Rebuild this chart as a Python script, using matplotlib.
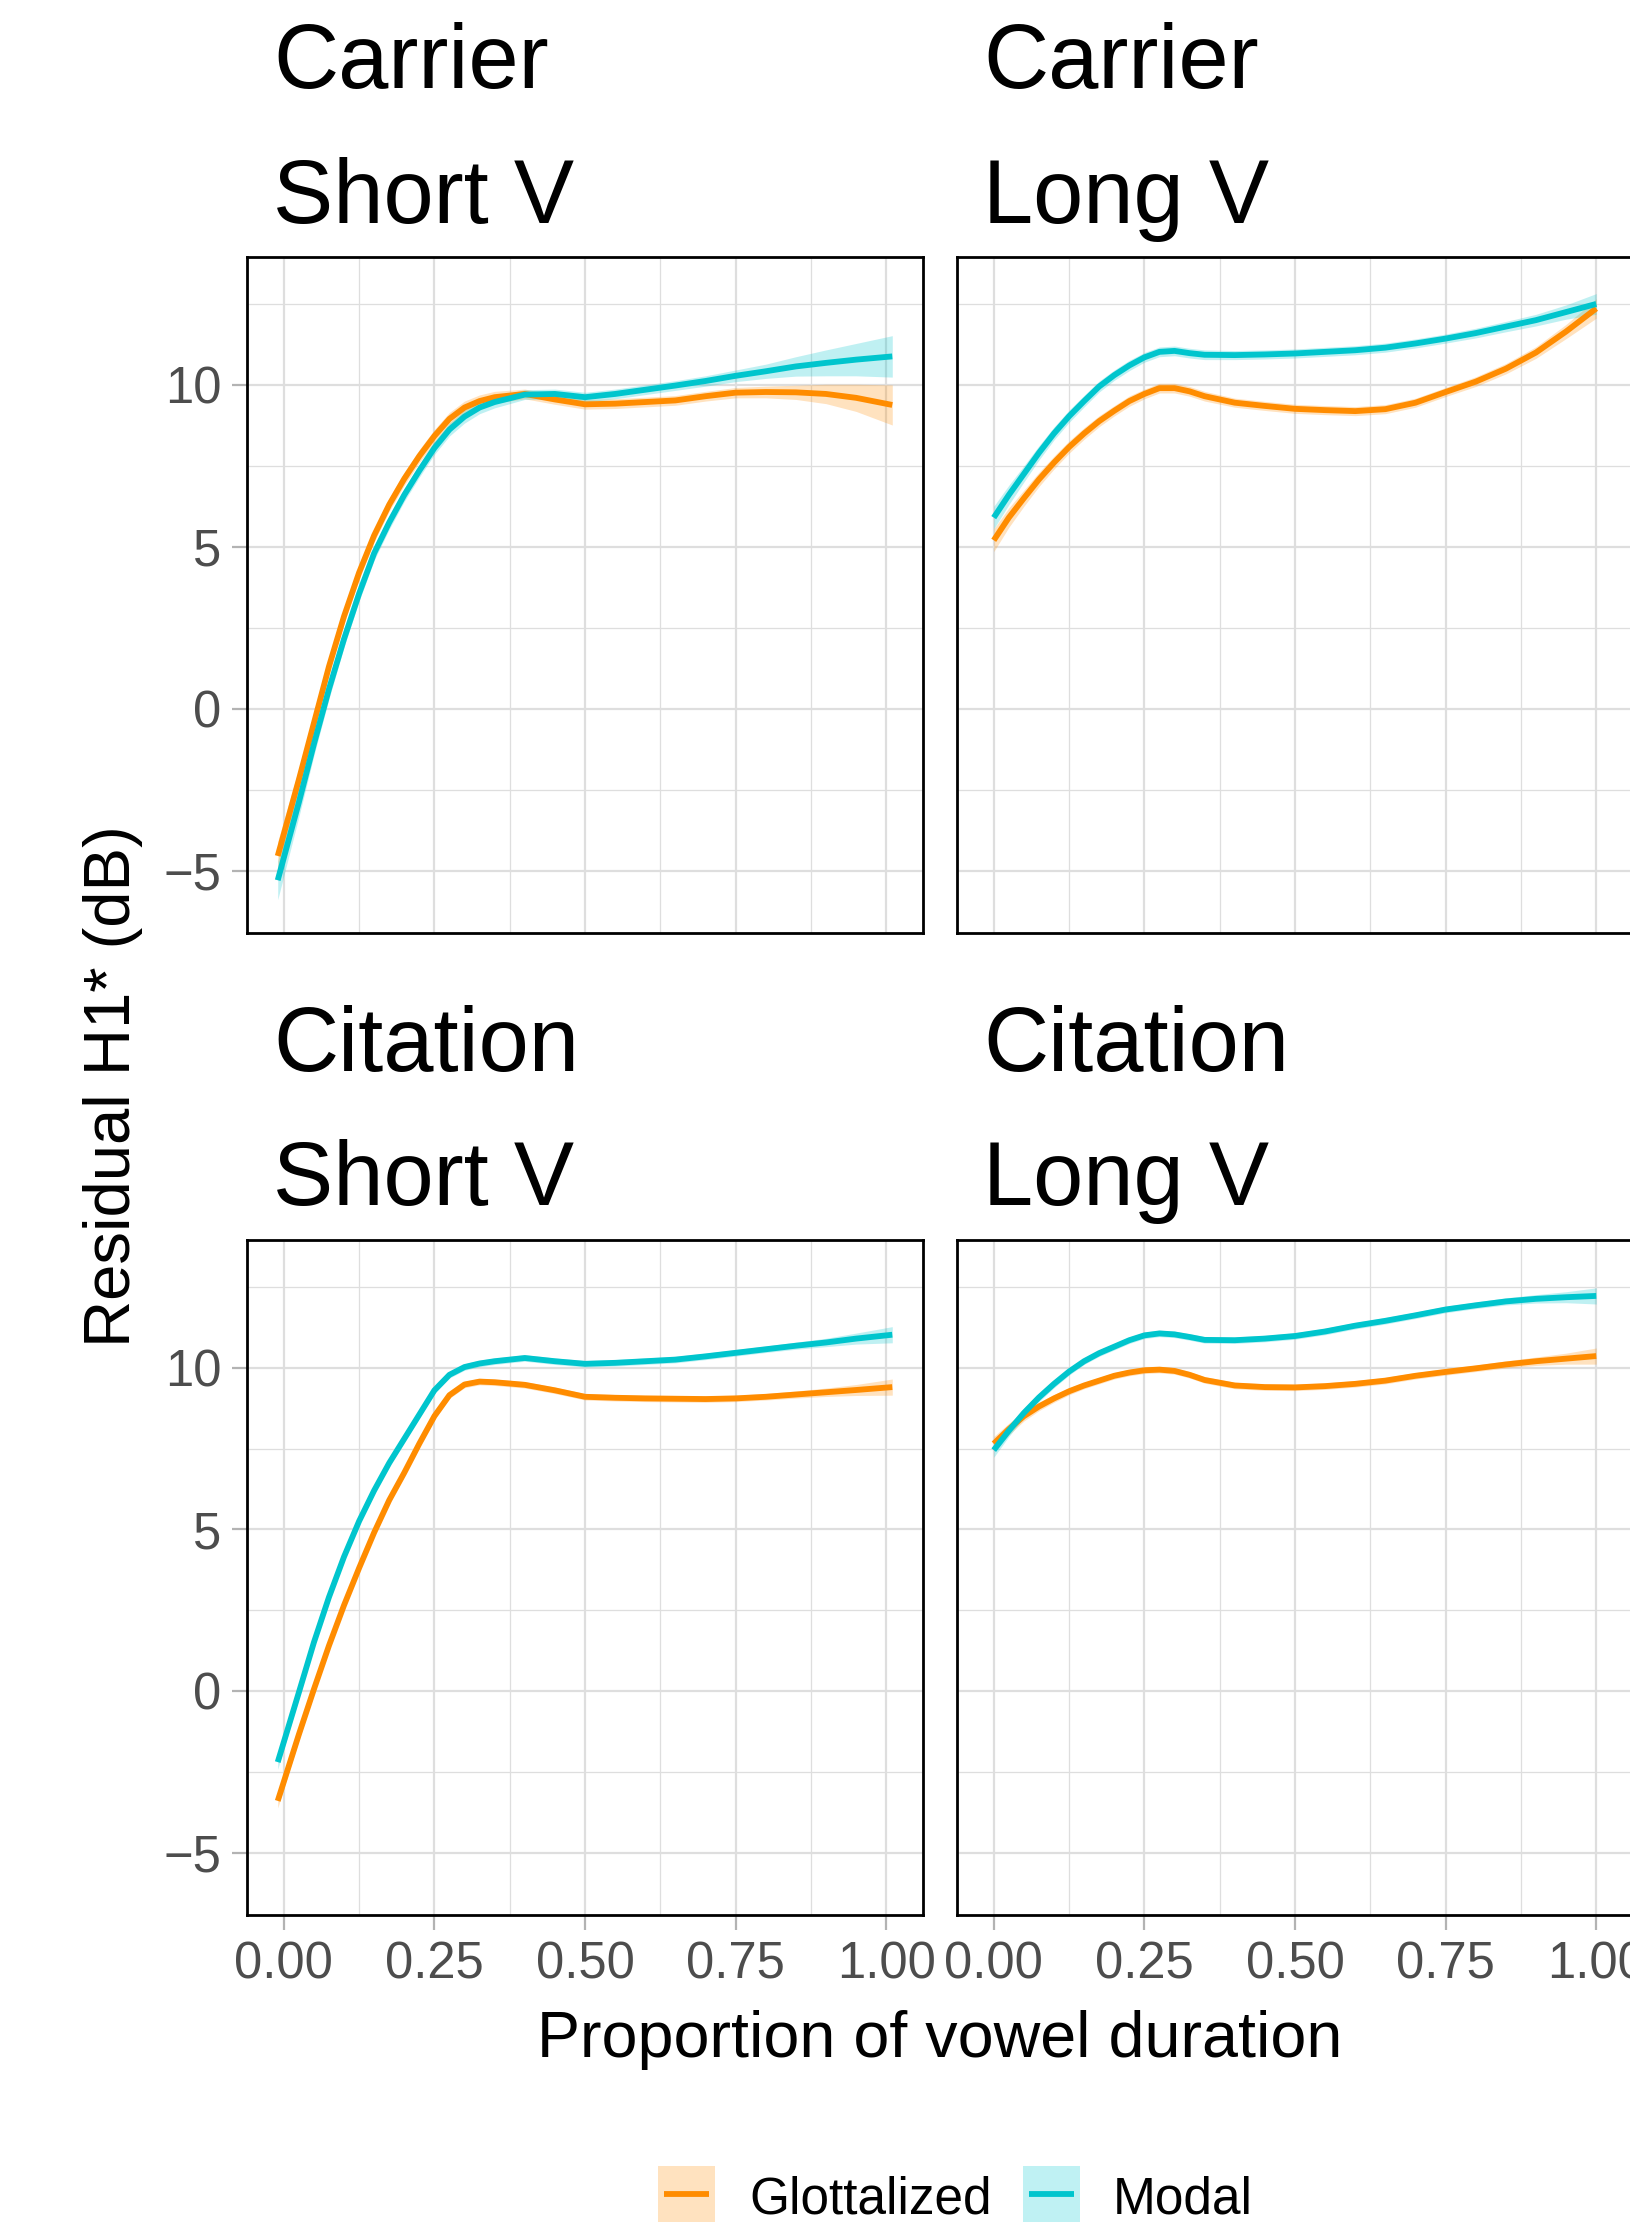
import matplotlib
matplotlib.use("Agg")
import matplotlib.pyplot as plt
from matplotlib.patches import Rectangle
from matplotlib.lines import Line2D

plt.rcParams['font.family'] = ['Liberation Sans', 'DejaVu Sans']

# ---------------- data ----------------
# proportion of vowel duration (short-vowel panels span slightly wider range)
X_SHORT = [-0.01, 0.025, 0.05, 0.075, 0.10, 0.125, 0.15, 0.175, 0.20, 0.225, 0.25,
           0.275, 0.30, 0.325, 0.35, 0.40, 0.45, 0.50, 0.55, 0.60, 0.65, 0.70,
           0.75, 0.80, 0.85, 0.90, 0.95, 1.01]
X_LONG = [0.0, 0.025, 0.05, 0.075, 0.10, 0.125, 0.15, 0.175, 0.20, 0.225, 0.25,
          0.275, 0.30, 0.325, 0.35, 0.40, 0.45, 0.50, 0.55, 0.60, 0.65, 0.70,
          0.75, 0.80, 0.85, 0.90, 0.95, 1.00]

panel_titles = [["Carrier", "Short V"], ["Carrier", "Long V"],
                ["Citation", "Short V"], ["Citation", "Long V"]]
groups = ["Glottalized", "Modal"]

carrier_short_glot = [-4.55, -2.2, -0.45, 1.3, 2.85, 4.2, 5.35, 6.3, 7.1, 7.8, 8.42,
                      8.95, 9.3, 9.5, 9.62, 9.72, 9.55, 9.4, 9.42, 9.47, 9.52, 9.65,
                      9.76, 9.78, 9.77, 9.72, 9.6, 9.38]
carrier_short_modal = [-5.3, -2.9, -1.1, 0.6, 2.15, 3.55, 4.8, 5.75, 6.6, 7.35, 8.05,
                       8.62, 9.02, 9.3, 9.47, 9.7, 9.72, 9.62, 9.72, 9.85, 9.98, 10.12,
                       10.28, 10.42, 10.57, 10.68, 10.78, 10.88]
carrier_long_glot = [5.2, 5.9, 6.5, 7.08, 7.6, 8.08, 8.5, 8.88, 9.2, 9.5, 9.72,
                     9.9, 9.9, 9.8, 9.65, 9.45, 9.35, 9.26, 9.22, 9.19, 9.25, 9.45,
                     9.78, 10.1, 10.5, 11.0, 11.65, 12.36]
carrier_long_modal = [5.9, 6.6, 7.25, 7.9, 8.5, 9.03, 9.5, 9.95, 10.3, 10.6, 10.85,
                      11.02, 11.05, 10.98, 10.93, 10.92, 10.94, 10.97, 11.02, 11.07, 11.15, 11.28,
                      11.43, 11.6, 11.8, 12.0, 12.25, 12.5]
citation_short_glot = [-3.4, -1.35, 0.05, 1.4, 2.65, 3.8, 4.9, 5.9, 6.75, 7.65, 8.5,
                       9.15, 9.48, 9.57, 9.55, 9.47, 9.3, 9.1, 9.07, 9.05, 9.04, 9.03,
                       9.05, 9.1, 9.17, 9.24, 9.31, 9.4]
citation_short_modal = [-2.2, -0.05, 1.5, 2.9, 4.15, 5.25, 6.2, 7.05, 7.8, 8.55, 9.3,
                        9.78, 10.02, 10.13, 10.2, 10.3, 10.2, 10.12, 10.15, 10.2, 10.25, 10.35,
                        10.46, 10.57, 10.68, 10.78, 10.9, 11.02]
citation_long_glot = [7.65, 8.1, 8.5, 8.8, 9.05, 9.27, 9.45, 9.6, 9.75, 9.85, 9.92,
                      9.94, 9.9, 9.78, 9.62, 9.45, 9.4, 9.39, 9.43, 9.5, 9.6, 9.75,
                      9.87, 9.98, 10.1, 10.2, 10.28, 10.36]
citation_long_modal = [7.45, 8.05, 8.6, 9.08, 9.5, 9.88, 10.2, 10.45, 10.65, 10.85, 11.0,
                       11.06, 11.03, 10.95, 10.86, 10.85, 10.9, 10.98, 11.12, 11.3, 11.45, 11.62,
                       11.8, 11.93, 12.05, 12.13, 12.18, 12.22]

# confidence half-widths (dB)
ci_carrier_short_glot = [0.45, 0.35, 0.3, 0.25, 0.22, 0.21, 0.2, 0.2, 0.2, 0.2, 0.2,
                         0.2, 0.2, 0.19, 0.18, 0.15, 0.15, 0.15, 0.15, 0.15, 0.15, 0.15,
                         0.16, 0.18, 0.22, 0.3, 0.42, 0.62]
ci_carrier_short_modal = [0.6, 0.45, 0.35, 0.3, 0.25, 0.23, 0.22, 0.21, 0.2, 0.2, 0.2,
                          0.2, 0.2, 0.19, 0.18, 0.15, 0.15, 0.15, 0.15, 0.15, 0.15, 0.16,
                          0.18, 0.22, 0.3, 0.4, 0.5, 0.64]
ci_carrier_long_glot = [0.35, 0.3, 0.25, 0.22, 0.2, 0.19, 0.18, 0.17, 0.16, 0.16, 0.15,
                        0.15, 0.15, 0.15, 0.15, 0.14, 0.14, 0.14, 0.14, 0.14, 0.14, 0.14,
                        0.14, 0.15, 0.16, 0.18, 0.22, 0.3]
ci_carrier_long_modal = [0.35, 0.3, 0.25, 0.22, 0.2, 0.19, 0.18, 0.17, 0.16, 0.16, 0.15,
                         0.15, 0.15, 0.15, 0.15, 0.14, 0.14, 0.14, 0.14, 0.14, 0.14, 0.14,
                         0.14, 0.15, 0.16, 0.18, 0.22, 0.32]
ci_citation_short_glot = [0.22, 0.18, 0.15, 0.13, 0.12, 0.11, 0.1, 0.1, 0.1, 0.1, 0.1,
                          0.1, 0.1, 0.1, 0.1, 0.1, 0.1, 0.1, 0.1, 0.1, 0.1, 0.1,
                          0.1, 0.1, 0.11, 0.13, 0.17, 0.25]
ci_citation_short_modal = [0.22, 0.18, 0.15, 0.13, 0.12, 0.11, 0.1, 0.1, 0.1, 0.1, 0.1,
                           0.1, 0.1, 0.1, 0.1, 0.1, 0.1, 0.1, 0.1, 0.1, 0.1, 0.1,
                           0.1, 0.1, 0.11, 0.13, 0.17, 0.25]
ci_citation_long_glot = [0.22, 0.18, 0.15, 0.13, 0.12, 0.11, 0.1, 0.1, 0.1, 0.1, 0.1,
                         0.1, 0.1, 0.1, 0.1, 0.1, 0.1, 0.1, 0.1, 0.1, 0.1, 0.1,
                         0.1, 0.1, 0.11, 0.13, 0.17, 0.25]
ci_citation_long_modal = [0.22, 0.18, 0.15, 0.13, 0.12, 0.11, 0.1, 0.1, 0.1, 0.1, 0.1,
                          0.1, 0.1, 0.1, 0.1, 0.1, 0.1, 0.1, 0.1, 0.1, 0.1, 0.1,
                          0.1, 0.1, 0.11, 0.13, 0.17, 0.25]

x_ticks = [0.00, 0.25, 0.50, 0.75, 1.00]
x_tick_labels = ["0.00", "0.25", "0.50", "0.75", "1.00"]
y_ticks = [-5, 0, 5, 10]
y_tick_labels = ["\u22125", "0", "5", "10"]

panels = [
    (X_SHORT, carrier_short_glot, ci_carrier_short_glot, carrier_short_modal, ci_carrier_short_modal),
    (X_LONG, carrier_long_glot, ci_carrier_long_glot, carrier_long_modal, ci_carrier_long_modal),
    (X_SHORT, citation_short_glot, ci_citation_short_glot, citation_short_modal, ci_citation_short_modal),
    (X_LONG, citation_long_glot, ci_citation_long_glot, citation_long_modal, ci_citation_long_modal),
]

colors = {"Glottalized": "#FF8C00", "Modal": "#00C5CD"}
fills = {"Glottalized": "#FFE2BF", "Modal": "#BFF1F3"}

# ---------------- layout ----------------
W, H = 1631, 2227
fig = plt.figure(figsize=(W / 100, H / 100), dpi=100)

def rect(l, t, r, b):
    return [l / W, 1 - b / H, (r - l) / W, (b - t) / H]

cols = [(247, 923), (957, 1633)]
rows = [(257, 933), (1240, 1915)]
title_base = [(88, 223), (1071, 1205)]
title_x = [273, 983]

GRID = "#DEDEDE"
TICKC = "#B3B3B3"
LABC = "#4D4D4D"

for i, (xs, g, gci, m, mci) in enumerate(panels):
    r, c = divmod(i, 2)
    ax = fig.add_axes(rect(cols[c][0], rows[r][0], cols[c][1], rows[r][1]))
    ax.set_xlim(-0.061, 1.061)
    ax.set_ylim(-6.93, 13.95)
    ax.set_xticks(x_ticks)
    ax.set_xticks([0.125, 0.375, 0.625, 0.875], minor=True)
    ax.set_yticks(y_ticks)
    ax.set_yticks([-2.5, 2.5, 7.5, 12.5], minor=True)
    ax.set_xticklabels(x_tick_labels)
    ax.set_yticklabels(y_tick_labels)
    ax.grid(which="major", color=GRID, linewidth=1.6)
    ax.grid(which="minor", color=GRID, linewidth=0.9)
    ax.set_axisbelow(True)
    ax.tick_params(which="minor", length=0)
    ax.tick_params(which="major", direction="out", length=10.5, width=1.6,
                   color=TICKC, labelcolor=LABC, labelsize=36.5, pad=8)
    if r == 0:
        ax.tick_params(axis="x", which="major", length=0, labelbottom=False)
    if c == 1:
        ax.tick_params(axis="y", which="major", length=0, labelleft=False)
    for sp in ax.spines.values():
        sp.set_color("black")
        sp.set_linewidth(2.0)

    for name, vals, ci in (("Glottalized", g, gci), ("Modal", m, mci)):
        lo = [v - e for v, e in zip(vals, ci)]
        hi = [v + e for v, e in zip(vals, ci)]
        ax.fill_between(xs, lo, hi, color=colors[name], alpha=0.25, linewidth=0)
    for name, vals in (("Glottalized", g), ("Modal", m)):
        ax.plot(xs, vals, color=colors[name], linewidth=4.2,
                solid_capstyle="butt", solid_joinstyle="round")

    t1, t2 = panel_titles[i]
    fig.text(title_x[c] / W, 1 - title_base[r][0] / H, t1, fontsize=65,
             ha="left", va="baseline", color="black")
    fig.text(title_x[c] / W, 1 - title_base[r][1] / H, t2, fontsize=65,
             ha="left", va="baseline", color="black")

# axis titles
fig.text(940 / W, 1 - 2057 / H, "Proportion of vowel duration", fontsize=46.5,
         ha="center", va="baseline", color="black")
fig.text(113 / W, 1 - 1086 / H, "Residual H1* (dB)", fontsize=47,
         ha="center", va="center", rotation=90, color="black")

# legend
leg_items = [("Glottalized", 658, 749), ("Modal", 1023, 1113)]
for name, bx, tx in leg_items:
    fig.add_artist(Rectangle((bx / W, 1 - 2222 / H), 57 / W, 56 / H,
                             transform=fig.transFigure, facecolor=fills[name],
                             edgecolor="none"))
    fig.add_artist(Line2D([(bx + 6) / W, (bx + 51) / W], [1 - 2194 / H, 1 - 2194 / H],
                          transform=fig.transFigure, color=colors[name],
                          linewidth=4.2, solid_capstyle="butt"))
    fig.text(tx / W, 1 - 2213 / H, name, fontsize=37, ha="left", va="baseline",
             color="black")

fig.savefig("out.png", dpi=100, facecolor="white")
